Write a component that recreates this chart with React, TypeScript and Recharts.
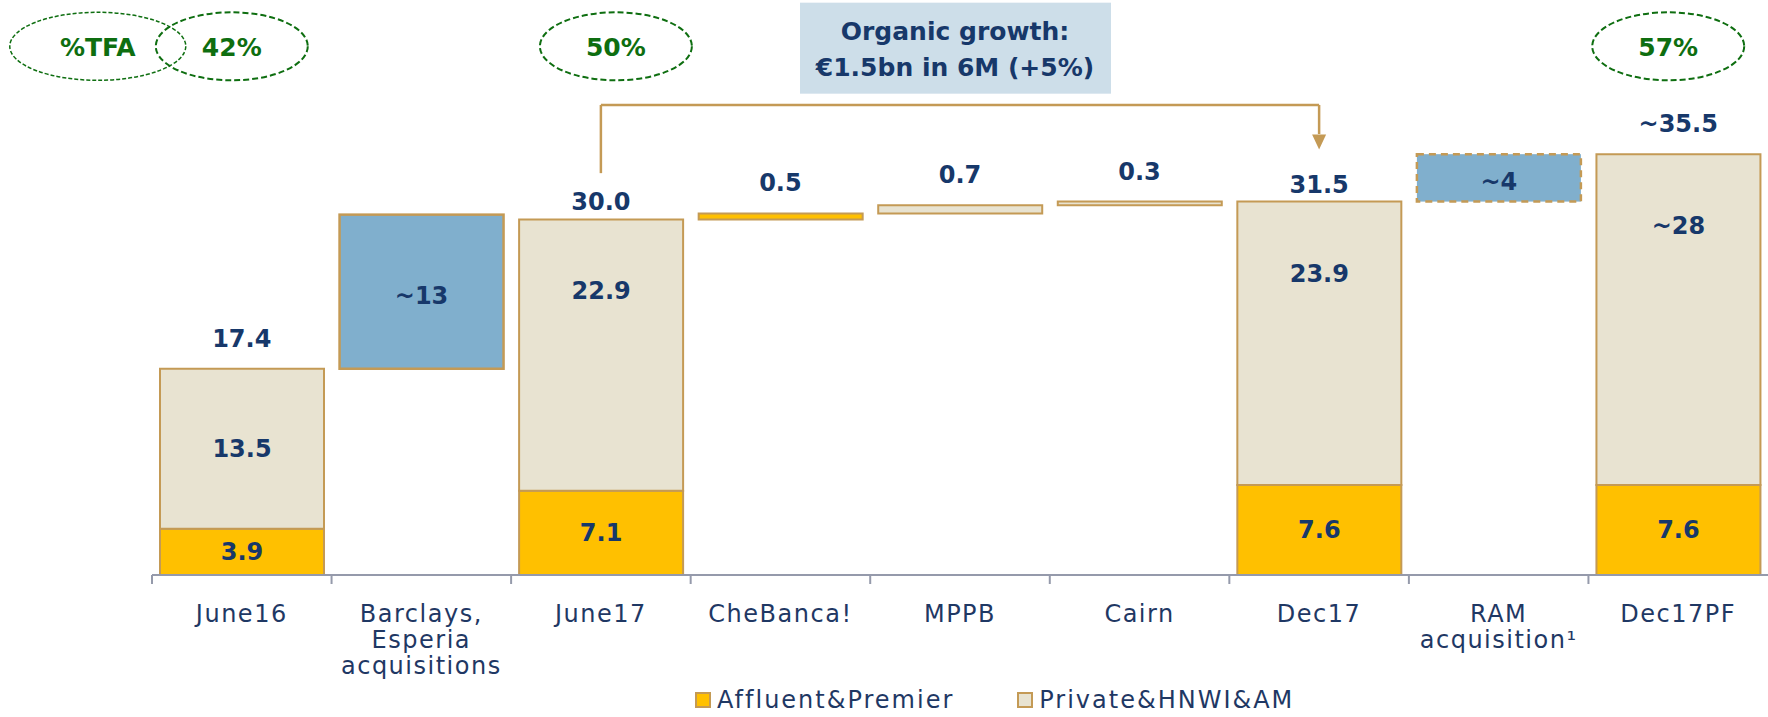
import React from "react";
import {
  ComposedChart,
  Bar,
  Line,
  XAxis,
  YAxis,
  Legend,
  LabelList,
  ReferenceLine,
  ReferenceDot,
} from "recharts";

// ---------------- DATA ----------------
const categories = [
  "June16",
  "Barclays,\nEsperia\nacquisitions",
  "June17",
  "CheBanca!",
  "MPPB",
  "Cairn",
  "Dec17",
  "RAM\nacquisition¹",
  "Dec17PF",
];
const baseValues = [0, 17.4, 0, 30.0, 30.5, 31.2, 0, 31.5, 0];
const affluentValues = [3.9, 0, 7.1, 0.5, 0, 0, 7.6, 0, 7.6];
const privateValues = [13.5, 0, 22.9, 0, 0.7, 0.3, 23.9, 0, 27.9];
const acquisitionValues = [0, 13.0, 0, 0, 0, 0, 0, 4.0, 0];
const acquisitionEstimated = [false, false, false, false, false, false, false, true, false];

const totalLabels = ["17.4", "", "30.0", "0.5", "0.7", "0.3", "31.5", "", "~35.5"];
const affluentLabels = ["3.9", "", "7.1", "", "", "", "7.6", "", "7.6"];
const privateLabels = ["13.5", "", "22.9", "", "", "", "23.9", "", "~28"];
const acquisitionLabels = ["", "~13", "", "", "", "", "", "~4", ""];

const tfaCategories = ["June16", "June17", "Dec17PF"];
const tfaLabels = ["42%", "50%", "57%"];
const tfaTitle = "%TFA";

const organicLines = ["Organic growth:", "€1.5bn in 6M (+5%)"];
const bracketFrom = "June17";
const bracketTo = "Dec17";
const organicAnchor = "MPPB";

const legendNames = ["Affluent&Premier", "Private&HNWI&AM"];

// ---------------- LAYOUT / STYLE ----------------
const W = 1768;
const H = 717;
const MARGIN = { top: 6, right: 0, bottom: 0, left: 152 };
const X_AXIS_H = 142;
const Y_MAX = 48;
const BAND = (W - MARGIN.left - MARGIN.right) / categories.length;

const NAVY = "#17386A";
const TICK_COLOR = "#1F3864";
const YELLOW = "#FFC000";
const BEIGE = "#E8E3D1";
const BLUE = "#80AFCD";
const TAN = "#C49A55";
const GREEN = "#0E6E10";
const AXIS = "#959AAB";
const BOX = "#CDDEE9";
const FONT = "'DejaVu Sans', 'Noto Sans', sans-serif";

// annotation levels (in value units)
const BUBBLE_Y = 44.6;
const BUBBLE_OFFSETS = [-10, 15, -10];
const ORGANIC_Y = 44.4;
const BRACKET_TOP = 39.65;
const BRACKET_LEFT_BOTTOM = 33.9;
const ARROW_BASE = 37.2;
const ARROW_TIP = 35.9;

const data = categories.map((name, i) => ({
  name,
  base: baseValues[i],
  affluent: affluentValues[i],
  private: privateValues[i],
  acquisition: acquisitionValues[i],
  total: baseValues[i] + affluentValues[i] + privateValues[i] + acquisitionValues[i],
  estimated: acquisitionEstimated[i],
  totalLabel: totalLabels[i],
  affluentLabel: affluentLabels[i],
  privateLabel: privateLabels[i],
  acquisitionLabel: acquisitionLabels[i],
}));

function rectOf(p: any) {
  const vb = p.viewBox && p.viewBox.width !== undefined ? p.viewBox : null;
  return {
    x: Number(vb ? vb.x : p.x),
    y: Number(vb ? vb.y : p.y),
    width: Number(vb ? vb.width : p.width) || 0,
    height: Number(vb ? vb.height : p.height) || 0,
    index: p.index as number,
  };
}

const ValueText = ({ x, y, text }: { x: number; y: number; text: string }) => (
  <text
    x={x}
    y={y}
    textAnchor="middle"
    dominantBaseline="central"
    fill={NAVY}
    fontFamily={FONT}
    fontWeight="bold"
    fontSize={24}
  >
    {text}
  </text>
);

const centerLabel = (dy: number) => (p: any) => {
  const r = rectOf(p);
  const t = p.value;
  if (!t) return null;
  return <ValueText x={r.x + r.width / 2} y={r.y + r.height / 2 + dy} text={String(t)} />;
};

const privateLabel = (p: any) => {
  const r = rectOf(p);
  const t = p.value;
  if (!t) return null;
  const y = r.height > 170 ? r.y + 72 : r.y + r.height / 2;
  return <ValueText x={r.x + r.width / 2} y={y} text={String(t)} />;
};

const totalLabel = (p: any) => {
  const r = rectOf(p);
  const t = p.value;
  if (!t) return null;
  const name = categories[r.index];
  const gap = name === bracketFrom || name === bracketTo ? 17 : 30;
  return <ValueText x={r.x + r.width / 2} y={r.y - gap} text={String(t)} />;
};

const AcquisitionShape = (p: any) => {
  const { x, y, width, height, payload } = p;
  if (!height || !width) return null;
  return (
    <rect
      x={x}
      y={y}
      width={width}
      height={height}
      fill={BLUE}
      stroke={TAN}
      strokeWidth={2.5}
      strokeDasharray={payload && payload.estimated ? "7 5" : undefined}
    />
  );
};

const CategoryTick = (p: any) => {
  const { x, y, payload } = p;
  const lines = String(payload.value).split("\n");
  return (
    <g>
      <line x1={x - BAND / 2} x2={x - BAND / 2} y1={y} y2={y + 9} stroke={AXIS} strokeWidth={2} />
      {lines.map((l, k) => (
        <text
          key={k}
          x={x}
          y={y + 39 + k * 26}
          textAnchor="middle"
          dominantBaseline="central"
          fill={TICK_COLOR}
          fontFamily={FONT}
          fontSize={24}
          letterSpacing={1.5}
        >
          {l}
        </text>
      ))}
    </g>
  );
};

const Bubble = (p: any) => {
  const { cx, cy, text, dx, rx, thin } = p;
  return (
    <g>
      <ellipse
        cx={cx + dx}
        cy={cy}
        rx={rx}
        ry={34}
        fill="none"
        stroke={GREEN}
        strokeWidth={thin ? 1.5 : 2}
        strokeDasharray={thin ? "4 2" : "6 3"}
      />
      <text
        x={cx + dx}
        y={cy + 1}
        textAnchor="middle"
        dominantBaseline="central"
        fill={GREEN}
        fontFamily={FONT}
        fontWeight="bold"
        fontSize={25}
      >
        {text}
      </text>
    </g>
  );
};

const OrganicBox = (p: any) => {
  const { cx, cy } = p;
  const bx = cx - 5;
  return (
    <g>
      <rect x={bx - 155} y={cy - 46} width={311} height={91} fill={BOX} />
      {organicLines.map((l, k) => (
        <text
          key={k}
          x={bx}
          y={cy - 17 + k * 36}
          textAnchor="middle"
          dominantBaseline="central"
          fill={NAVY}
          fontFamily={FONT}
          fontWeight="bold"
          fontSize={25}
        >
          {l}
        </text>
      ))}
    </g>
  );
};

const Arrow = (p: any) => {
  const { cx, cy } = p;
  return <path d={`M ${cx - 7} ${cy - 15} L ${cx + 7} ${cy - 15} L ${cx} ${cy} Z`} fill={TAN} />;
};

const LegendContent = () => (
  <div
    style={{
      display: "flex",
      alignItems: "center",
      paddingLeft: 695,
      fontFamily: FONT,
      fontSize: 24,
      color: TICK_COLOR,
      letterSpacing: 2.0,
      whiteSpace: "nowrap",
    }}
  >
    {legendNames.map((n, k) => (
      <div key={k} style={{ display: "flex", alignItems: "center", marginRight: k === 0 ? 63 : 0 }}>
        <span
          style={{
            display: "inline-block",
            width: 12,
            height: 12,
            background: k === 0 ? YELLOW : BEIGE,
            border: `2px solid ${TAN}`,
            marginRight: 6,
          }}
        />
        <span>{n}</span>
      </div>
    ))}
  </div>
);

export default function App() {
  return (
    <div style={{ position: "absolute", left: 0, top: 0, width: W, height: H, background: "#fff" }}>
      <ComposedChart width={W} height={H} data={data} margin={MARGIN} barSize={164}>
        <XAxis
          dataKey="name"
          height={X_AXIS_H}
          interval={0}
          tickLine={false}
          tickSize={0}
          tickMargin={0}
          axisLine={{ stroke: AXIS, strokeWidth: 2 }}
          tick={<CategoryTick />}
        />
        <YAxis hide domain={[0, Y_MAX]} type="number" allowDataOverflow />
        <Bar dataKey="base" stackId="s" fill="transparent" isAnimationActive={false} legendType="none" />
        <Bar dataKey="affluent" stackId="s" fill={YELLOW} stroke={TAN} strokeWidth={2} isAnimationActive={false}>
          <LabelList dataKey="affluentLabel" content={centerLabel(0)} />
        </Bar>
        <Bar dataKey="private" stackId="s" fill={BEIGE} stroke={TAN} strokeWidth={2} isAnimationActive={false}>
          <LabelList dataKey="privateLabel" content={privateLabel} />
        </Bar>
        <Bar
          dataKey="acquisition"
          stackId="s"
          fill={BLUE}
          isAnimationActive={false}
          shape={<AcquisitionShape />}
          legendType="none"
        >
          <LabelList dataKey="acquisitionLabel" content={centerLabel(4)} />
        </Bar>
        <Line
          dataKey="total"
          stroke="none"
          dot={false}
          activeDot={false}
          isAnimationActive={false}
          legendType="none"
        >
          <LabelList dataKey="totalLabel" content={totalLabel} />
        </Line>

        {/* bracket for organic growth */}
        <ReferenceLine
          ifOverflow="visible"
          segment={[
            { x: bracketFrom, y: BRACKET_LEFT_BOTTOM },
            { x: bracketFrom, y: BRACKET_TOP },
          ]}
          stroke={TAN}
          strokeWidth={2.5}
        />
        <ReferenceLine
          ifOverflow="visible"
          segment={[
            { x: bracketFrom, y: BRACKET_TOP },
            { x: bracketTo, y: BRACKET_TOP },
          ]}
          stroke={TAN}
          strokeWidth={2.5}
        />
        <ReferenceLine
          ifOverflow="visible"
          segment={[
            { x: bracketTo, y: BRACKET_TOP },
            { x: bracketTo, y: ARROW_BASE },
          ]}
          stroke={TAN}
          strokeWidth={2.5}
        />
        <ReferenceDot ifOverflow="visible" x={bracketTo} y={ARROW_TIP} r={0} shape={<Arrow />} />

        <ReferenceDot ifOverflow="visible" x={organicAnchor} y={ORGANIC_Y} r={0} shape={<OrganicBox />} />

        <ReferenceDot
          ifOverflow="visible"
          x={tfaCategories[0]}
          y={BUBBLE_Y}
          r={0}
          shape={<Bubble text={tfaTitle} dx={BUBBLE_OFFSETS[0] - 134} rx={88} thin />}
        />
        {tfaCategories.map((c, k) => (
          <ReferenceDot
            key={c}
            ifOverflow="visible"
            x={c}
            y={BUBBLE_Y}
            r={0}
            shape={<Bubble text={tfaLabels[k]} dx={BUBBLE_OFFSETS[k]} rx={76} />}
          />
        ))}

        <Legend
          layout="horizontal"
          verticalAlign="middle"
          align="center"
          wrapperStyle={{ top: 686, left: 0, width: W, height: 30 }}
          content={<LegendContent />}
        />
      </ComposedChart>
    </div>
  );
}
